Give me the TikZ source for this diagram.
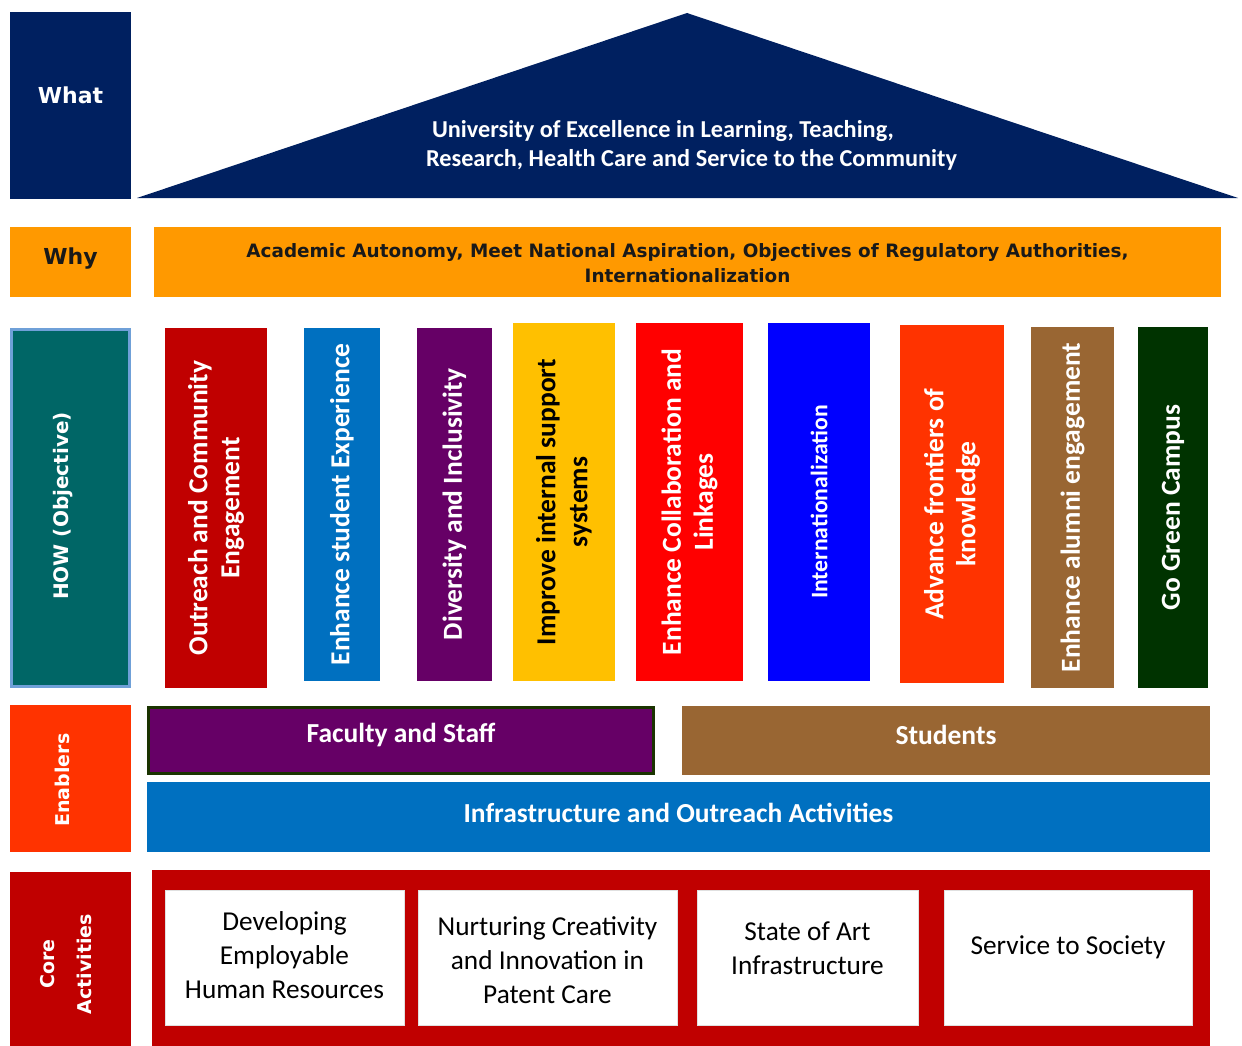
\documentclass[tikz,border=0pt]{standalone}
\usepackage{fontspec}
\setmainfont{Carlito}
\newfontfamily\dvs{DejaVu Sans}
\definecolor{navy}{HTML}{002060}
\definecolor{amber}{HTML}{FF9900}
\definecolor{teal2}{HTML}{006666}
\definecolor{howedge}{HTML}{6FA0D8}
\definecolor{crimson}{HTML}{C00000}
\definecolor{azure}{HTML}{0070C0}
\definecolor{plum}{HTML}{660066}
\definecolor{gold}{HTML}{FFC000}
\definecolor{brightred}{HTML}{FF0000}
\definecolor{pureblue}{HTML}{0000FF}
\definecolor{flame}{HTML}{FF3300}
\definecolor{bronze}{HTML}{996633}
\definecolor{forest}{HTML}{003300}
\definecolor{darkedge}{HTML}{1A3300}
\begin{document}
\begin{tikzpicture}[x=1pt,y=-1pt,
  blk/.style={rectangle, inner sep=0pt, outer sep=0pt, text=white, align=center},
  sidelbl/.style={blk, font=\dvs\bfseries\fontsize{22pt}{26pt}\selectfont},
  sidevert/.style={blk, rotate=90, font=\dvs\bfseries\fontsize{19pt}{37pt}\selectfont},
  pil/.style={blk, rotate=90, font=\bfseries\fontsize{27.5pt}{32pt}\selectfont},
  bar/.style={blk, font=\bfseries\fontsize{27.5pt}{30pt}\selectfont},
  whitebox/.style={rectangle, inner sep=0pt, fill=white, draw=black!12, line width=1pt},
  coretext/.style={align=center, text=black, font=\fontsize{27.3pt}{34pt}\selectfont}
]
\useasboundingbox[fill=white] (0,0) rectangle (1242,1046);

% ---- What ----
\node[sidelbl, fill=navy, minimum width=121pt, minimum height=187pt] (what) at (70.5,105.5) {};
\node[sidelbl] (whatlbl) at ([yshift=10pt]what.center) {What};
\fill[navy] (137,198) coordinate (roofL) -- (687,13) coordinate (roofT) -- (1238,198) coordinate (roofR) -- cycle;
\node[blk, align=left, anchor=west, font=\bfseries\fontsize{24.3pt}{29pt}\selectfont] (vision) at (426,145.5)
  {\hspace{6pt}University of Excellence in Learning, Teaching,\\Research, Health Care and Service to the Community};

% ---- Why ----
\node[sidelbl, fill=amber, text=black, minimum width=121pt, minimum height=70pt] (why) at (70.5,262) {};
\node[sidelbl, text=black!90] (whylbl) at ([yshift=3pt]why.center) {Why};
\node[blk, fill=amber, minimum width=1067pt, minimum height=70pt] (whybar) at (687.5,262) {};
\node[blk, text=black!90, font=\dvs\bfseries\fontsize{18.4pt}{25pt}\selectfont] (whytext) at ([yshift=-1.5pt]whybar.center)
  {Academic Autonomy, Meet National Aspiration, Objectives of Regulatory Authorities,\\Internationalization};

% ---- How ----
\node[sidevert, fill=teal2, draw=howedge, line width=3pt, minimum width=357pt, minimum height=118pt] (how) at (70.5,508) {};
\node[sidevert, font=\dvs\bfseries\fontsize{20pt}{24pt}\selectfont] (howlbl) at ([xshift=-7.5pt, yshift=2pt]how.center) {HOW (Objective)};

\node[pil, fill=crimson, minimum width=360pt, minimum height=102pt] (p1) at (216,508) {Outreach and Community\\Engagement};
\node[pil, fill=azure, minimum width=353pt, minimum height=76pt] (p2) at (342,504.5) {Enhance student Experience};
\node[pil, fill=plum, minimum width=353pt, minimum height=75pt] (p3) at (454.5,504.5) {Diversity and Inclusivity};
\node[pil, fill=gold, text=black, minimum width=358pt, minimum height=102pt] (p4) at (564,502) {Improve internal support\\systems};
\node[pil, fill=brightred, minimum width=358pt, minimum height=107pt] (p5) at (689.5,502) {Enhance Collaboration and\\Linkages};
\node[pil, fill=pureblue, minimum width=358pt, minimum height=102pt, font=\bfseries\fontsize{23.7pt}{28pt}\selectfont] (p6) at (819,502) {Internationalization};
\node[pil, fill=flame, minimum width=358pt, minimum height=104pt] (p7) at (952,504) {Advance frontiers of\\knowledge};
\node[pil, fill=bronze, minimum width=361pt, minimum height=83pt] (p8) at (1072.5,507.5) {Enhance alumni engagement};
\node[pil, fill=forest, minimum width=361pt, minimum height=70pt] (p9) at (1173,507.5) {Go Green Campus};

% ---- Enablers ----
\node[sidevert, fill=flame, minimum width=147pt, minimum height=121pt] (enab) at (70.5,778.5) {};
\node[sidevert] (enablbl) at ([xshift=-8.5pt, yshift=-1.5pt]enab.center) {Enablers};
\node[bar, fill=plum, draw=darkedge, line width=3pt, minimum width=505pt, minimum height=66pt] (staff) at (401,740.5) {};
\node[bar] (stafflbl) at ([yshift=6pt]staff.center) {Faculty and Staff};
\node[bar, fill=bronze, minimum width=528pt, minimum height=69pt] (stud) at (946,740.5) {};
\node[bar] (studlbl) at ([yshift=6pt]stud.center) {Students};
\node[bar, fill=azure, minimum width=1063pt, minimum height=70pt] (infra) at (678.5,817) {};
\node[bar] (infralbl) at ([yshift=4pt]infra.center) {Infrastructure and Outreach Activities};

% ---- Core activities ----
\node[sidevert, fill=crimson, minimum width=174pt, minimum height=121pt] (core) at (70.5,959) {};
\node[sidevert] (corelbl) at ([xshift=-4.5pt, yshift=-5pt]core.center) {Core\\Activities};
\node[blk, fill=crimson, minimum width=1058pt, minimum height=176pt] (corebar) at (681,958) {};

\node[whitebox, minimum width=239pt, minimum height=135pt] (c1) at (284.5,957.5) {};
\node[whitebox, minimum width=259pt, minimum height=135pt] (c2) at (547.5,957.5) {};
\node[whitebox, minimum width=221pt, minimum height=135pt] (c3) at (807.5,957.5) {};
\node[whitebox, minimum width=248pt, minimum height=135pt] (c4) at (1068,957.5) {};
\node[coretext] (c1t) at ([yshift=2.5pt]c1.center) {Developing\\Employable\\Human Resources};
\node[coretext] (c2t) at ([yshift=-2.5pt]c2.center) {Nurturing Creativity\\and Innovation in\\Patent Care};
\node[coretext] (c3t) at ([yshift=9.5pt]c3.center) {State of Art\\Infrastructure};
\node[coretext] (c4t) at ([yshift=10.5pt]c4.center) {Service to Society};
\end{tikzpicture}
\end{document}
